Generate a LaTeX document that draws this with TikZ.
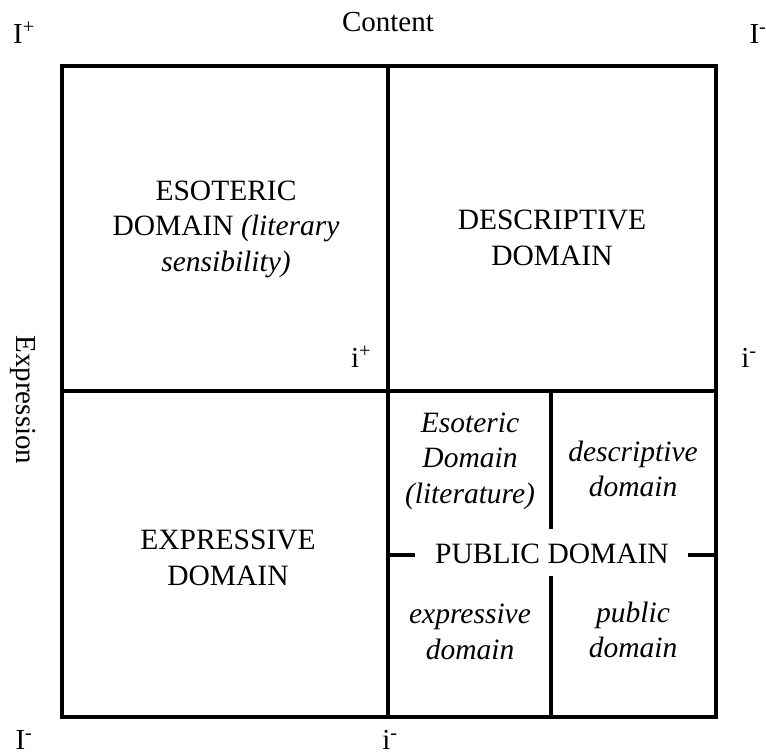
\documentclass[tikz,border=0pt]{standalone}
\usepackage{fontspec}
\setmainfont{Liberation Serif}
\begin{document}
\begin{tikzpicture}[x=1pt,y=-1pt,
  frame/.style={line width=3.8pt,line cap=rect},
  lbl/.style={align=center,inner sep=0pt,font=\fontsize{29.5}{35.5}\selectfont},
  axlbl/.style={inner sep=0pt,font=\fontsize{29}{35}\selectfont}]
\useasboundingbox (0,0) rectangle (766,755);
% frame
\draw[frame] (62,66) rectangle (716,717);
\draw[frame] (388,66) -- (388,717);
\draw[frame] (62,391) -- (716,391);
\draw[frame] (551,391) -- (551,527);
\draw[frame] (551,578) -- (551,717);
\draw[frame] (388,555) -- (413,555);
\draw[frame] (690,555) -- (716,555);
% axis labels
\node[axlbl] (content) at (388,22) {Content};
\node[axlbl,rotate=-90] (expr) at (23,400) {Expression};
\node[axlbl,anchor=base] (Itl) at (24,43) {I\textsuperscript{+}};
\node[axlbl,anchor=base] (Itr) at (758,43) {I\textsuperscript{-}};
\node[axlbl,anchor=base] (Ibl) at (24,749) {I\textsuperscript{-}};
\node[axlbl,anchor=base] (ibm) at (390,749) {i\textsuperscript{-}};
\node[axlbl,anchor=base] (im) at (361,367) {i\textsuperscript{+}};
\node[axlbl,anchor=base] (ir) at (749,367) {i\textsuperscript{-}};
% quadrant labels
\node[lbl] (eso) at (226,229) {ESOTERIC\\DOMAIN \textit{(literary}\\\textit{sensibility)}};
\node[lbl] (desc) at (552,238) {DESCRIPTIVE\\DOMAIN};
\node[lbl] (expd) at (228,558) {EXPRESSIVE\\DOMAIN};
\node[lbl] (esol) at (470,461) {\textit{Esoteric}\\\textit{Domain}\\\textit{(literature)}};
\node[lbl] (descl) at (633,469) {\textit{descriptive}\\\textit{domain}};
\node[lbl] (pub) at (552,554) {PUBLIC DOMAIN};
\node[lbl] (expl) at (470,632) {\textit{expressive}\\\textit{domain}};
\node[lbl] (publ) at (633,630) {\textit{public}\\\textit{domain}};
\end{tikzpicture}
\end{document}
